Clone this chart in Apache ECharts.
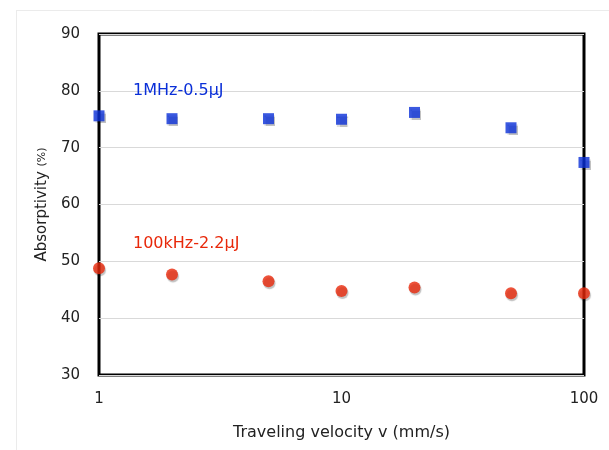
<!DOCTYPE html>
<html>
<head>
<meta charset="utf-8">
<script src="https://cdn.jsdelivr.net/npm/echarts@6/dist/echarts.min.js"></script>
<style>html,body{margin:0;padding:0;background:#fff;}#c{width:609px;height:450px;}</style>
</head>
<body>
<div id="c"></div>
<script>
var velocities = [1, 2, 5, 10, 20, 50, 100];
var mhzValues = [75.6, 75.1, 75.1, 75.0, 76.2, 73.5, 67.4];
var khzValues = [48.8, 47.7, 46.5, 44.8, 45.4, 44.4, 44.4];
var yTicks = [30, 40, 50, 60, 70, 80, 90];
var xTicks = [1, 10, 100];
var seriesNames = ['1MHz-0.5\u03bcJ', '100kHz-2.2\u03bcJ'];

var font = '"DejaVu Sans", sans-serif';
var chart = echarts.init(document.getElementById('c'));
function pairs(vals) { return velocities.map(function (v, i) { return [v, vals[i]]; }); }
chart.setOption({
  animation: false,
  backgroundColor: '#fff',
  grid: { left: 99, right: 25, top: 34, bottom: 75, show: true, borderColor: '#000', borderWidth: 3, backgroundColor: 'transparent' },
  xAxis: {
    type: 'log', logBase: 10, min: xTicks[0], max: xTicks[xTicks.length - 1],
    name: 'Traveling velocity v (mm/s)', nameLocation: 'middle', nameGap: 50,
    nameTextStyle: { fontFamily: font, fontSize: 16, color: '#222' },
    axisLine: { show: false }, axisTick: { show: false }, splitLine: { show: false },
    axisLabel: { fontFamily: font, fontSize: 15, color: '#222', margin: 17 }
  },
  yAxis: {
    type: 'value', min: yTicks[0], max: yTicks[yTicks.length - 1], interval: 10,
    name: 'Absorptivity {s|(%)}', nameLocation: 'middle', nameGap: 47,
    nameTextStyle: { fontFamily: font, fontSize: 15, color: '#222', rich: { s: { fontFamily: font, fontSize: 11, color: '#222' } } },
    axisLine: { show: false }, axisTick: { show: false },
    splitLine: { show: true, lineStyle: { color: '#d9d9d9', width: 1 } },
    axisLabel: { fontFamily: font, fontSize: 15, color: '#222', margin: 19 }
  },
  series: [
    { name: seriesNames[0], type: 'scatter', symbol: 'rect', symbolSize: 11, clip: false, z: 5,
      itemStyle: { color: '#0a2fd8', shadowColor: 'rgba(0,0,0,0.3)', shadowOffsetY: 2, shadowOffsetX: 1, shadowBlur: 1 },
      data: pairs(mhzValues) },
    { name: seriesNames[1], type: 'scatter', symbol: 'circle', symbolSize: 12, clip: false, z: 5,
      itemStyle: { color: '#e8280a', shadowColor: 'rgba(0,0,0,0.3)', shadowOffsetY: 2, shadowOffsetX: 1, shadowBlur: 1 },
      data: pairs(khzValues) }
  ],
  graphic: [
    { type: 'line', shape: { x1: 16.5, y1: 10, x2: 16.5, y2: 450 }, style: { stroke: '#ebebeb', lineWidth: 1 }, silent: true },
    { type: 'line', shape: { x1: 16, y1: 10.5, x2: 609, y2: 10.5 }, style: { stroke: '#ebebeb', lineWidth: 1 }, silent: true },
    { type: 'text', left: 133, top: 83, z: 10, style: { text: seriesNames[0], fill: '#0a2fd8', font: '16px ' + font } },
    { type: 'text', left: 133, top: 236, z: 10, style: { text: seriesNames[1], fill: '#e8280a', font: '16px ' + font } }
  ]
});
</script>
</body>
</html>
